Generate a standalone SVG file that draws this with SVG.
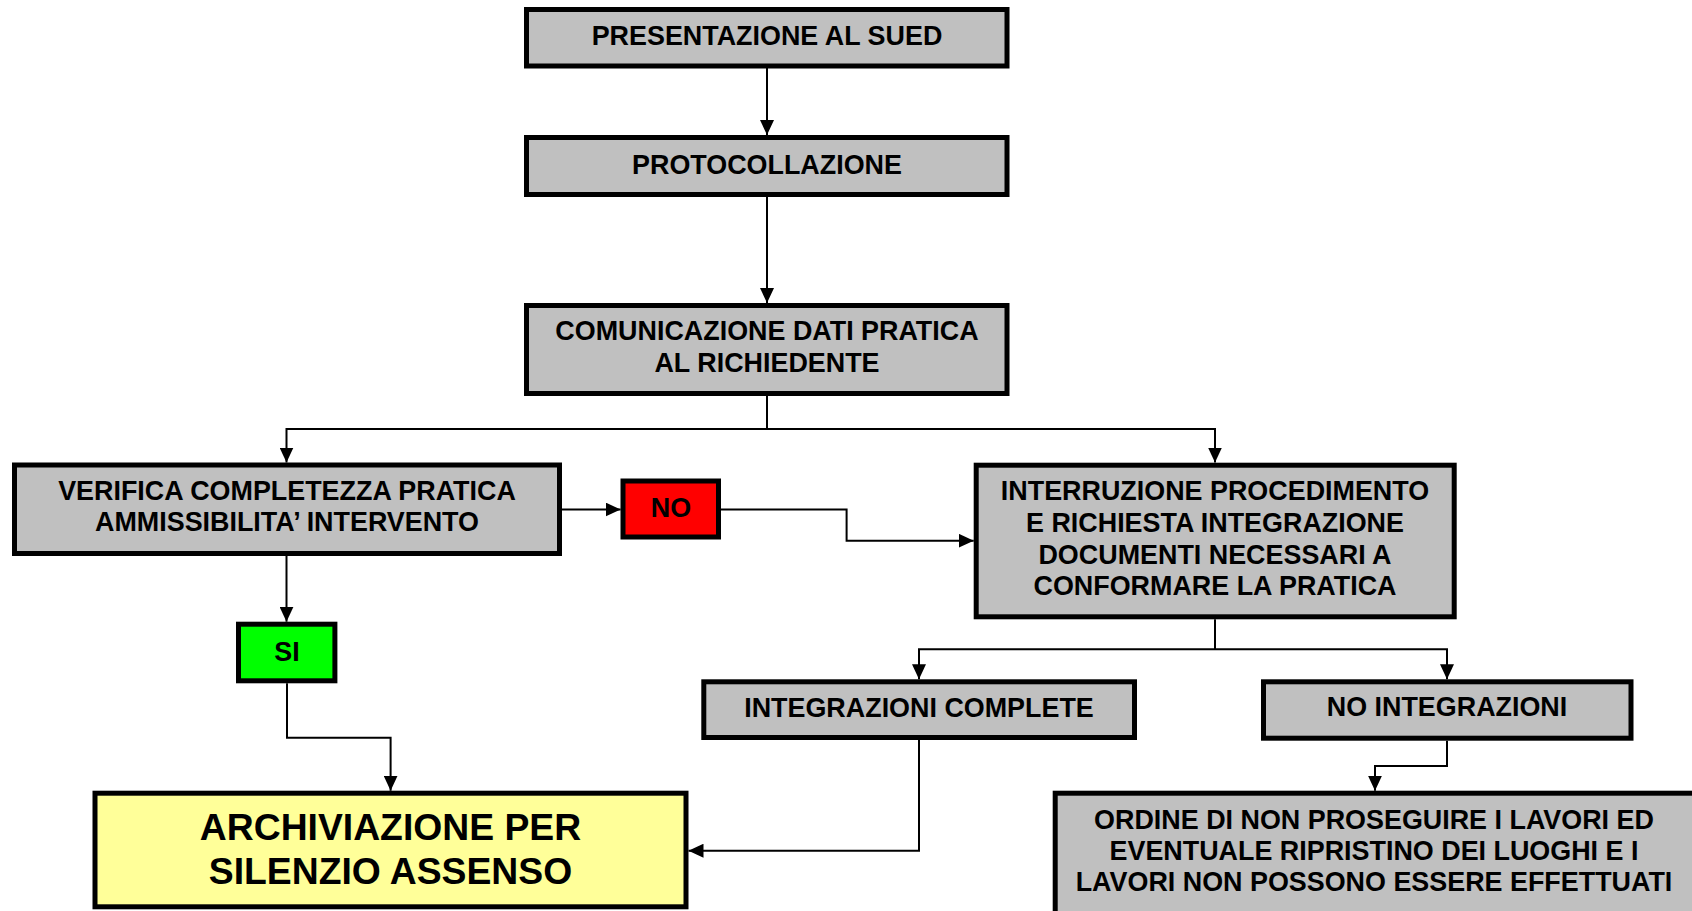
<svg xmlns="http://www.w3.org/2000/svg" width="1692" height="911" viewBox="0 0 1692 911">
  <style>
    .box { stroke: #000; stroke-width: 5; }
    .gray { fill: #C0C0C0; }
    .red { fill: #FF0000; }
    .green { fill: #00FF00; }
    .yellow { fill: #FFFF99; }
    .t { font-family: "Liberation Sans", Arial, sans-serif; font-weight: bold; font-size: 26.9px; fill: #000; text-anchor: middle; }
    .big { font-size: 37.3px; }
    .conn { fill: none; stroke: #000; stroke-width: 2; }
  </style>
  <defs>
    <marker id="arrow" markerUnits="userSpaceOnUse" markerWidth="15" markerHeight="14" refX="15" refY="7" orient="auto">
      <path d="M0,0 L15,7 L0,14 Z" fill="#000"/>
    </marker>
  </defs>
  <rect width="1692" height="911" fill="#FFFFFF"/>

  <g id="connectors">
    <path class="conn" d="M767,68 V135" marker-end="url(#arrow)"/>
    <path class="conn" d="M767,197 V303" marker-end="url(#arrow)"/>
    <path class="conn" d="M767,396 V429"/>
    <path class="conn" d="M767,429 H286.5 V462.5" marker-end="url(#arrow)"/>
    <path class="conn" d="M767,429 H1215 V462.5" marker-end="url(#arrow)"/>
    <path class="conn" d="M562,509.5 H620.6" marker-end="url(#arrow)"/>
    <path class="conn" d="M721,509.5 H846.6 V540.7 H973.7" marker-end="url(#arrow)"/>
    <path class="conn" d="M286.5,556 V621.7" marker-end="url(#arrow)"/>
    <path class="conn" d="M1215,619.3 V649.3"/>
    <path class="conn" d="M1215,649.3 H919 V679.3" marker-end="url(#arrow)"/>
    <path class="conn" d="M1215,649.3 H1447 V679.3" marker-end="url(#arrow)"/>
    <path class="conn" d="M287,683.3 V737.7 H390.6 V790.7" marker-end="url(#arrow)"/>
    <path class="conn" d="M919,740 V850.7 H688.5" marker-end="url(#arrow)"/>
    <path class="conn" d="M1447,740.7 V766 H1375 V790.7" marker-end="url(#arrow)"/>
  </g>

  <g id="presentazione">
    <rect class="box gray" x="526.5" y="9.5" width="480.5" height="56.5"/>
    <text class="t" x="767" y="45">PRESENTAZIONE AL SUED</text>
  </g>
  <g id="protocollazione">
    <rect class="box gray" x="526.5" y="137.5" width="480.5" height="57"/>
    <text class="t" x="767" y="173.5">PROTOCOLLAZIONE</text>
  </g>
  <g id="comunicazione">
    <rect class="box gray" x="526.5" y="305.5" width="480.5" height="88"/>
    <text class="t" x="767" y="339.5">COMUNICAZIONE DATI PRATICA</text>
    <text class="t" x="767" y="371.5">AL RICHIEDENTE</text>
  </g>
  <g id="verifica">
    <rect class="box gray" x="14.5" y="465" width="545" height="88.5"/>
    <text class="t" x="287" y="500">VERIFICA COMPLETEZZA PRATICA</text>
    <text class="t" x="287" y="531">AMMISSIBILITA’ INTERVENTO</text>
  </g>
  <g id="no">
    <rect class="box red" x="623" y="481" width="95.5" height="56"/>
    <text class="t" x="671" y="517">NO</text>
  </g>
  <g id="si">
    <rect class="box green" x="238.5" y="624.2" width="96.4" height="56.6"/>
    <text class="t" x="287" y="660.5">SI</text>
  </g>
  <g id="interruzione">
    <rect class="box gray" x="976.2" y="465.2" width="478" height="151.6"/>
    <text class="t" x="1215" y="499.5">INTERRUZIONE PROCEDIMENTO</text>
    <text class="t" x="1215" y="531.5">E RICHIESTA INTEGRAZIONE</text>
    <text class="t" x="1215" y="563.5">DOCUMENTI NECESSARI A</text>
    <text class="t" x="1215" y="595">CONFORMARE LA PRATICA</text>
  </g>
  <g id="integrazioni-complete">
    <rect class="box gray" x="703.8" y="681.8" width="430.7" height="55.7"/>
    <text class="t" x="919" y="716.5">INTEGRAZIONI COMPLETE</text>
  </g>
  <g id="no-integrazioni">
    <rect class="box gray" x="1263.5" y="681.8" width="367.5" height="56.4"/>
    <text class="t" x="1447" y="716">NO INTEGRAZIONI</text>
  </g>
  <g id="archiviazione">
    <rect class="box yellow" x="95" y="793.2" width="591" height="113.6"/>
    <text class="t big" x="390.5" y="839.5">ARCHIVIAZIONE PER</text>
    <text class="t big" x="390.5" y="884">SILENZIO ASSENSO</text>
  </g>
  <g id="ordine">
    <rect class="box gray" x="1055.2" y="793.2" width="640" height="200"/>
    <text class="t" x="1374" y="829.3">ORDINE DI NON PROSEGUIRE I LAVORI ED</text>
    <text class="t" x="1374" y="860">EVENTUALE RIPRISTINO DEI LUOGHI E I</text>
    <text class="t" x="1374" y="890.7">LAVORI NON POSSONO ESSERE EFFETTUATI</text>
  </g>
</svg>
